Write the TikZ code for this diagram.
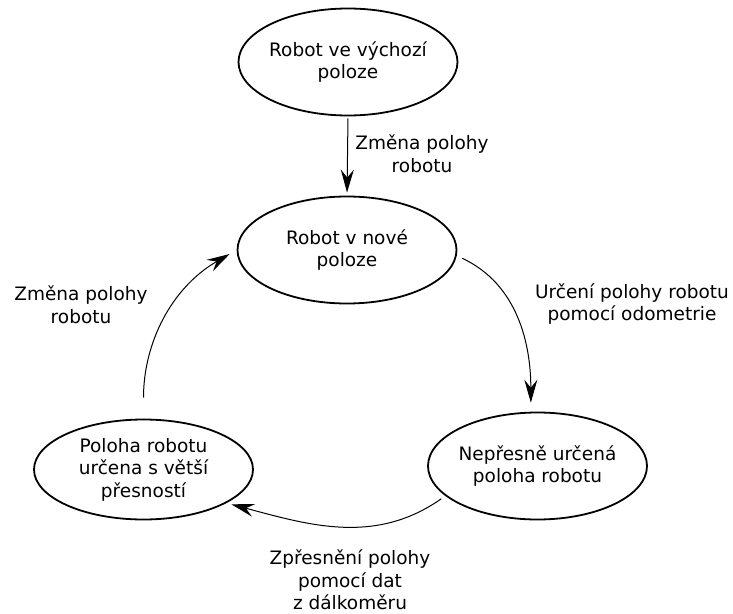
\documentclass[tikz,border=0pt]{standalone}
\usepackage{fontspec}
\setmainfont{DejaVu Sans}
\usetikzlibrary{shapes.geometric,arrows.meta}
\begin{document}
\begin{tikzpicture}[x=1pt,y=-1pt,
  state/.style={ellipse,draw,line width=1.8pt,inner xsep=-20pt,inner ysep=-4pt,align=center,
    minimum width=219pt,minimum height=107pt,font=\fontsize{18.5}{22.5}\selectfont},
  lbl/.style={align=center,inner sep=0pt,font=\fontsize{18.5}{22.5}\selectfont},
  conn/.style={line width=1pt,-{Stealth[length=23pt,width=13pt,inset=8pt]}}]
\useasboundingbox (0,0) rectangle (733,613);
\node[state] (start) at (348,62) {Robot ve výchozí\\poloze};
\node[state] (mid) at (347,250) {Robot v nové\\poloze};
\node[state] (odo) at (537.5,466) {Nepřesně určená\\poloha robotu};
\node[state,minimum height=100pt] (prec) at (143.5,469.5) {Poloha robotu\\určena s větší\\přesností};
\node[lbl] (l1) at (422,154) {Změna polohy\\robotu};
\node[lbl] (l2) at (632,304) {Určení polohy robotu\\pomocí odometrie};
\node[lbl] (l3) at (350,580) {Zpřesnění polohy\\pomocí dat\\z dálkoměru};
\node[lbl] (l4) at (81,305) {Změna polohy\\robotu};
\draw[conn,shorten <=2pt,shorten >=3pt] (start.south) -- (mid.north);
\draw[conn,shorten <=6pt,shorten >=9pt] (mid.-3) to[out=-25,in=90] (odo.97);
\draw[conn,shorten <=5pt,shorten >=5pt] (odo.198) to[out=-145,in=-15] (prec.-22);
\draw[conn,shorten <=21pt,shorten >=8pt] (prec.north) to[out=90,in=210] (mid.west);
\end{tikzpicture}
\end{document}
